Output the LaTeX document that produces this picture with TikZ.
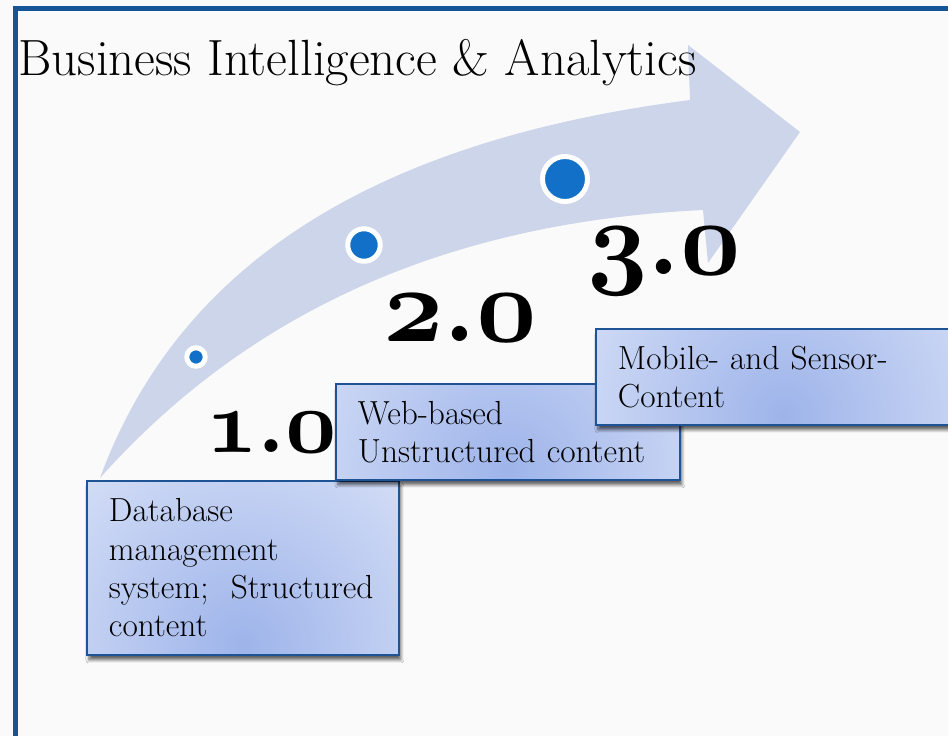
\documentclass[tikz,border=0pt]{standalone}
\usepackage{fix-cm}
\usepackage{tikz}
\usetikzlibrary{shadows.blur}
\definecolor{paper}{RGB}{250,250,250}
\definecolor{frameblue}{RGB}{22,84,152}
\definecolor{arrowblue}{RGB}{204,213,234}
\definecolor{dotblue}{RGB}{18,112,200}
\definecolor{boxline}{RGB}{30,84,150}
\definecolor{boxblue}{RGB}{158,180,234}
\definecolor{boxpale}{RGB}{238,242,252}
\newcommand\oldnum[1]{{\usefont{OML}{cmm}{b}{it}#1}}
\tikzset{
  genbox/.style={draw=boxline, line width=1.1pt, anchor=north west, align=left,
    inner xsep=0.44cm, inner ysep=0pt, font=\fontsize{19}{21.8}\selectfont,
    blur shadow={shadow xshift=0.04cm, shadow yshift=-0.1cm, shadow blur steps=6, shadow opacity=60},
    path picture={\shade[inner color=boxblue, outer color=boxpale]
      ([yshift=0.2cm]path picture bounding box.south) circle (7cm);}},
  stagedot/.style={circle, fill=dotblue, draw=white, line width=0.1cm, inner sep=0pt},
  version/.style={anchor=base west, inner sep=0pt}
}

\begin{document}
\begin{tikzpicture}[x=0.02cm, y=-0.02cm]
\useasboundingbox[fill=paper] (0,0) rectangle (948,736);
\fill[arrowblue] (100,478) .. controls (180,260) and (380,140) .. (690,100)
  -- (688,45) -- (800,132) -- (708,263) -- (703,210)
  .. controls (450,222) and (250,310) .. cycle;
\draw[frameblue, line width=0.1cm] (15.8,740) -- (15.8,8.5) -- (950,8.5);
\node[anchor=base west, inner sep=0pt, font=\fontsize{29}{33}\selectfont] (title) at (18,76) {Business Intelligence \& Analytics};
\node[version, font=\fontsize{51}{58}\selectfont\bfseries] (v1) at (206,453) {\oldnum{1}.\oldnum{0}};
\node[version, font=\fontsize{60}{66}\selectfont\bfseries] (v2) at (383,342) {\oldnum{2}.\oldnum{0}};
\node[version, font=\fontsize{60}{66}\selectfont\bfseries] (v3) at (587,275) {\oldnum{3}.\oldnum{0}};
\node[stagedot, minimum size=0.37cm] (d1) at (196,357) {};
\node[stagedot, minimum size=0.65cm] (d2) at (364,245) {};
\node[stagedot, minimum size=0.9cm] (d3) at (565,179) {};
\node[genbox, text width=5.36cm, minimum height=3.48cm] (dbms) at (86,480) {Database\\management\\\mbox{system;\ \ Structured}\\content};
\node[genbox, text width=6cm, minimum height=1.92cm] (web) at (335,383) {Web-based\\Unstructured content};
\node[genbox, text width=6.62cm, minimum height=1.92cm] (mobile) at (595,328) {Mobile- and Sensor-\\Content};
\end{tikzpicture}
\end{document}
